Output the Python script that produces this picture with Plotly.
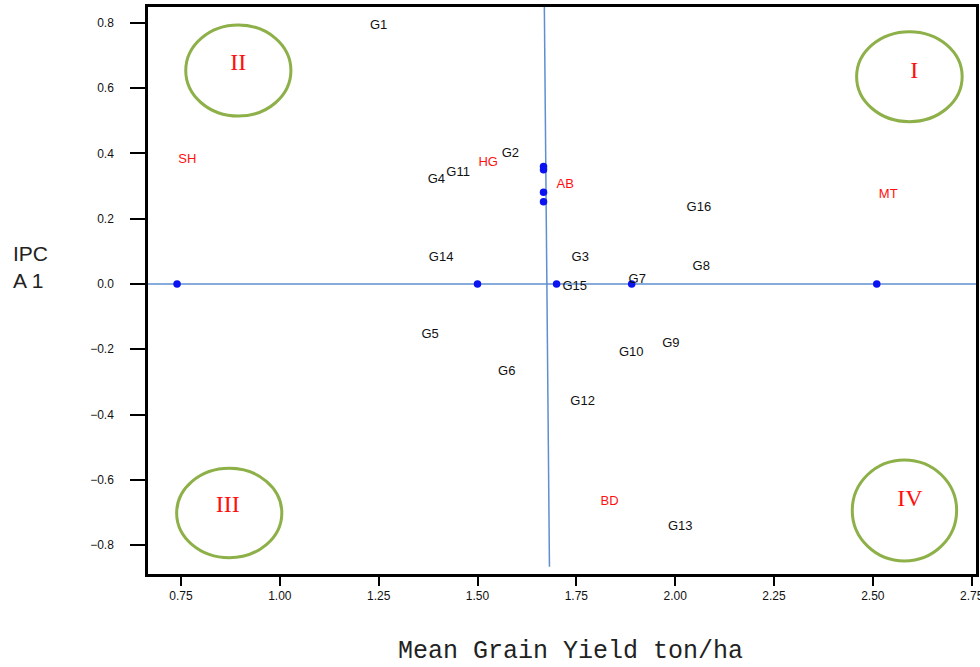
import plotly.graph_objects as go

# Genotype labels (black)
g_labels = ["G1", "G2", "G3", "G4", "G5", "G6", "G7", "G8", "G9", "G10",
            "G11", "G12", "G13", "G14", "G15", "G16"]
g_x = [1.250, 1.583, 1.760, 1.396, 1.380, 1.574, 1.904, 2.066, 1.989, 1.889,
       1.451, 1.766, 2.013, 1.408, 1.746, 2.060]
g_y = [0.790, 0.398, 0.079, 0.320, -0.156, -0.268, 0.012, 0.053, -0.184, -0.212,
       0.341, -0.362, -0.743, 0.079, -0.008, 0.232]

# Environment labels (red)
e_labels = ["SH", "HG", "AB", "MT", "BD"]
e_x = [0.766, 1.527, 1.722, 2.539, 1.834]
e_y = [0.380, 0.371, 0.303, 0.272, -0.666]

# Blue points
p_x = [0.74, 1.50, 1.70, 1.89, 2.51, 1.667, 1.667, 1.667, 1.667]
p_y = [0.0, 0.0, 0.0, 0.0, 0.0, 0.360, 0.350, 0.281, 0.252]

# Quadrant numerals
q_labels = ["I", "II", "III", "IV"]
q_x = [2.605, 0.895, 0.868, 2.594]
q_y = [0.650, 0.673, -0.680, -0.661]

x_ticks = [0.75, 1.00, 1.25, 1.50, 1.75, 2.00, 2.25, 2.50, 2.75]
y_ticks = [-0.8, -0.6, -0.4, -0.2, 0.0, 0.2, 0.4, 0.6, 0.8]

fig = go.Figure()

line_col = "#5f8fcf"
green = "#8db049"

shapes = [
    dict(type="line", xref="x", yref="y", x0=0.6665, x1=2.761, y0=0, y1=0,
         line=dict(color=line_col, width=1.5), layer="below"),
    dict(type="line", xref="x", yref="y", x0=1.669, x1=1.682, y0=0.86, y1=-0.866,
         line=dict(color=line_col, width=1.5), layer="below"),
    dict(type="circle", xref="x", yref="y", x0=0.762, x1=1.028, y0=0.514, y1=0.793,
         line=dict(color=green, width=3)),
    dict(type="circle", xref="x", yref="y", x0=2.459, x1=2.726, y0=0.497, y1=0.772,
         line=dict(color=green, width=3)),
    dict(type="circle", xref="x", yref="y", x0=0.739, x1=1.005, y0=-0.838, y1=-0.564,
         line=dict(color=green, width=3)),
    dict(type="circle", xref="x", yref="y", x0=2.448, x1=2.712, y0=-0.848, y1=-0.539,
         line=dict(color=green, width=3)),
]

fig.add_trace(go.Scatter(x=p_x, y=p_y, mode="markers",
                         marker=dict(color="#0a14f0", size=7.5, symbol="circle"),
                         hoverinfo="skip", showlegend=False))
fig.add_trace(go.Scatter(x=g_x, y=g_y, mode="text", text=g_labels,
                         textfont=dict(family="Liberation Sans, Arial", size=13, color="#111111"),
                         textposition="middle center", showlegend=False))
fig.add_trace(go.Scatter(x=e_x, y=e_y, mode="text", text=e_labels,
                         textfont=dict(family="Liberation Sans, Arial", size=13, color="#ff1010"),
                         textposition="middle center", showlegend=False))
fig.add_trace(go.Scatter(x=q_x, y=q_y, mode="text", text=q_labels,
                         textfont=dict(family="Liberation Serif, Times New Roman", size=24, color="#ff1010"),
                         textposition="middle center", showlegend=False))

fig.update_layout(
    width=980, height=667,
    margin=dict(l=148, r=4, t=7, b=93, autoexpand=False),
    paper_bgcolor="white", plot_bgcolor="white",
    shapes=shapes,
    xaxis=dict(range=[0.6665, 2.761], tickvals=x_ticks, tickformat=".2f",
               showgrid=False, zeroline=False, showline=True, linecolor="black",
               linewidth=2.5, mirror=True, ticks="outside", ticklen=9, tickwidth=2,
               tickcolor="black", ticklabeloverflow="allow", automargin=False,
               tickfont=dict(family="Liberation Sans, Arial", size=12, color="#111111")),
    yaxis=dict(range=[-0.888, 0.848], tickvals=y_ticks, tickformat=".1f",
               showgrid=False, zeroline=False, showline=True, linecolor="black",
               linewidth=2.5, mirror=True, ticks="outside", ticklen=15, tickwidth=2,
               tickcolor="black", ticklabelstandoff=14, automargin=False,
               tickfont=dict(family="Liberation Sans, Arial", size=12, color="#111111")),
    annotations=[
        dict(text="IPC<br>A 1", xref="paper", yref="paper", x=-0.165, y=0.542,
             xanchor="left", yanchor="middle", align="left", showarrow=False,
             font=dict(family="Liberation Sans, Arial", size=21, color="#222222")),
        dict(text="Mean Grain Yield ton/ha", xref="paper", yref="paper",
             x=(570.5 - 148) / 828, y=-(651 - 574) / 567,
             xanchor="center", yanchor="middle", showarrow=False,
             font=dict(family="Liberation Mono, Courier New", size=25, color="#222222")),
    ],
)

fig.write_html("out.html", config={"displayModeBar": False},
               post_script="document.body.style.margin='0';document.body.style.overflow='hidden';")
